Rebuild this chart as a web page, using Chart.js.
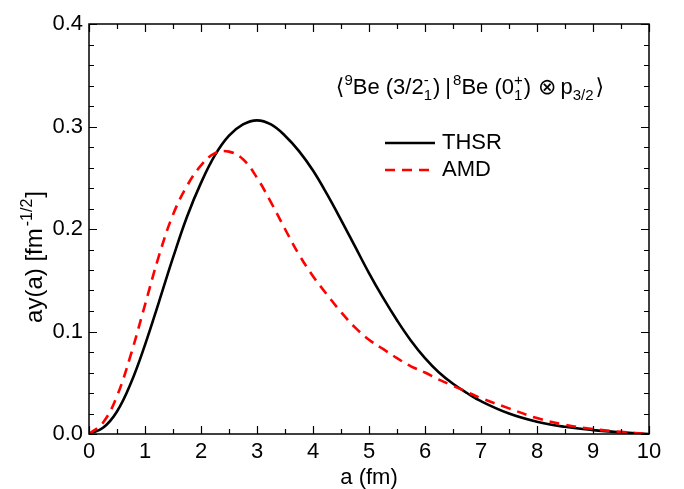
<!DOCTYPE html>
<html>
<head>
<meta charset="utf-8">
<script src="https://cdn.jsdelivr.net/npm/chart.js@4/dist/chart.umd.min.js"></script>
<style>
  html, body { margin: 0; padding: 0; background: #fff; }
  canvas { display: block; }
</style>
</head>
<body>
<canvas id="chart" width="684" height="489"></canvas>
<script>
// data
const aValues = [0, 0.25, 0.5, 0.75, 1.0, 1.25, 1.5, 1.75, 2.0, 2.25, 2.5, 2.75, 3.0, 3.25, 3.5, 3.75,
                 4.0, 4.25, 4.5, 4.75, 5.0, 5.25, 5.5, 5.75, 6.0, 6.25, 6.5, 6.75, 7.0, 7.5, 8.0, 8.5, 9.0, 9.5, 10];
const thsrValues = [0, 0.006, 0.022, 0.050, 0.087, 0.129, 0.172, 0.212, 0.245, 0.272, 0.291, 0.302, 0.306, 0.302, 0.291, 0.276,
                    0.257, 0.234, 0.209, 0.183, 0.157, 0.133, 0.111, 0.091, 0.074, 0.060, 0.049, 0.040, 0.032, 0.020, 0.012, 0.0070, 0.0038, 0.0016, 0];
const amdValues = [0, 0.011, 0.037, 0.078, 0.126, 0.174, 0.214, 0.242, 0.262, 0.274, 0.2755, 0.268, 0.250, 0.226, 0.200, 0.175,
                   0.154, 0.136, 0.119, 0.104, 0.092, 0.083, 0.074, 0.066, 0.060, 0.053, 0.047, 0.041, 0.035, 0.025, 0.0155, 0.009, 0.0048, 0.0021, 0];
const xTickValues = [0, 1, 2, 3, 4, 5, 6, 7, 8, 9, 10];
const yTickValues = [0, 0.1, 0.2, 0.3, 0.4];
const seriesNames = ['THSR', 'AMD'];

const FAMILY = "'Liberation Sans', Arial, 'DejaVu Sans', sans-serif";
const font = sz => sz + 'px ' + FAMILY;

// rich text: parts are {t} normal, {t,k:'sup'|'sub'} small, {up,dn} stacked, {gap} blank space
function partWidth(ctx, p, st) {
    if (p.gap !== undefined) return p.gap;
    if (p.up !== undefined) {
        ctx.font = font(st.small);
        return Math.max(ctx.measureText(p.up).width, ctx.measureText(p.dn).width);
    }
    ctx.font = font(p.k ? st.small : st.base);
    return ctx.measureText(p.t).width;
}

function drawParts(ctx, parts, x, y, st) {
    ctx.textBaseline = 'alphabetic';
    ctx.textAlign = 'left';
    parts.forEach(p => {
        const w = partWidth(ctx, p, st);
        if (p.gap !== undefined) {
            // nothing
        } else if (p.up !== undefined) {
            ctx.font = font(st.small);
            ctx.fillText(p.up, x, y - st.rise);
            ctx.fillText(p.dn, x, y + st.drop);
        } else if (p.k === 'sup') {
            ctx.font = font(st.small);
            ctx.fillText(p.t, x, y - st.rise);
        } else if (p.k === 'sub') {
            ctx.font = font(st.small);
            ctx.fillText(p.t, x, y + st.drop);
        } else {
            ctx.font = font(st.base);
            ctx.fillText(p.t, x, y);
        }
        x += w;
    });
}

const totalWidth = (ctx, parts, st) => parts.reduce((s, p) => s + partWidth(ctx, p, st), 0);

const decorations = {
    id: 'decorations',
    afterDatasetsDraw(chart) {
        const ctx = chart.ctx;
        const xs = chart.scales.x, ys = chart.scales.y;
        const a = chart.chartArea;
        ctx.save();
        ctx.strokeStyle = '#000';
        ctx.fillStyle = '#000';
        ctx.lineWidth = 1.5;
        ctx.strokeRect(a.left, a.top, a.right - a.left, a.bottom - a.top);

        // inward ticks on all four sides
        ctx.lineWidth = 1.2;
        ctx.beginPath();
        for (let i = 0; i <= 20; i++) {
            const px = Math.round(xs.getPixelForValue(i * 0.5)) + 0.5;
            const len = i % 2 === 0 ? 8 : 5;
            ctx.moveTo(px, a.bottom); ctx.lineTo(px, a.bottom - len);
            ctx.moveTo(px, a.top); ctx.lineTo(px, a.top + len);
        }
        for (let i = 0; i <= 20; i++) {
            const py = Math.round(ys.getPixelForValue(i * 0.02)) + 0.5;
            const len = i % 5 === 0 ? 8 : 5;
            ctx.moveTo(a.left, py); ctx.lineTo(a.left + len, py);
            ctx.moveTo(a.right, py); ctx.lineTo(a.right - len, py);
        }
        ctx.stroke();

        // legend
        ctx.lineWidth = 2.5;
        ctx.beginPath();
        ctx.moveTo(385, 143); ctx.lineTo(435, 143);
        ctx.stroke();
        ctx.strokeStyle = '#ff0000';
        ctx.setLineDash([10, 7]);
        ctx.beginPath();
        ctx.moveTo(385, 170); ctx.lineTo(435, 170);
        ctx.stroke();
        ctx.setLineDash([]);
        ctx.font = font(22);
        ctx.textBaseline = 'alphabetic';
        ctx.fillText(seriesNames[0], 442, 149);
        ctx.fillText(seriesNames[1], 442, 176);

        // annotation
        const noteStyle = {base: 22, small: 15, rise: 9, drop: 6};
        const note = [{t: '\u27E8'}, {t: '9', k: 'sup'}, {t: 'Be (3/2'}, {up: '-', dn: '1'}, {gap: 1}, {t: ')'},
                      {gap: 5}, {t: '|'}, {gap: 2}, {t: '8', k: 'sup'}, {t: 'Be (0'}, {up: '+', dn: '1'}, {gap: 1},
                      {t: ')'}, {gap: 7}, {t: '\u2297'}, {gap: 4}, {t: 'p'}, {t: '3/2', k: 'sub'}, {gap: 2}, {t: '\u27E9'}];
        const nw = totalWidth(ctx, note, noteStyle);
        drawParts(ctx, note, 470 - nw / 2, 94, noteStyle);

        // axis titles
        const titleStyle = {base: 22, small: 15, rise: 9, drop: 6};
        const xt = [{t: 'a (fm)'}];
        drawParts(ctx, xt, 369 - totalWidth(ctx, xt, titleStyle) / 2, 484, titleStyle);
        const ytStyle = {base: 24, small: 16, rise: 10, drop: 6};
        const yt = [{t: 'ay(a) [fm'}, {gap: 2}, {t: '-1/2', k: 'sup'}, {gap: 1}, {t: ']'}];
        ctx.translate(42, 257);
        ctx.rotate(-Math.PI / 2);
        drawParts(ctx, yt, -totalWidth(ctx, yt, ytStyle) / 2, 0, ytStyle);
        ctx.restore();
    }
};

new Chart(document.getElementById('chart'), {
    type: 'line',
    data: {
        datasets: [
            {
                label: seriesNames[0],
                data: aValues.map((x, i) => ({x: x, y: thsrValues[i]})),
                borderColor: '#000000',
                borderWidth: 2.6,
                pointRadius: 0,
                tension: 0.4,
                order: 2
            },
            {
                label: seriesNames[1],
                data: aValues.map((x, i) => ({x: x, y: amdValues[i]})),
                borderColor: '#ff0000',
                borderWidth: 2.6,
                borderDash: [10, 7],
                pointRadius: 0,
                tension: 0.4,
                order: 1
            }
        ]
    },
    options: {
        responsive: false,
        animation: false,
        layout: { padding: { left: 0, top: 24, right: 35, bottom: 0 } },
        plugins: { legend: { display: false }, tooltip: { enabled: false } },
        scales: {
            x: {
                type: 'linear', min: 0, max: 10,
                afterFit: s => { s.height = 55; },
                afterBuildTicks: s => { s.ticks = xTickValues.map(v => ({value: v})); },
                grid: { drawOnChartArea: false, drawTicks: false },
                border: { display: false },
                ticks: { padding: 5, color: '#000', font: { family: FAMILY, size: 22 },
                         maxRotation: 0, callback: v => String(v) }
            },
            y: {
                min: 0, max: 0.4,
                afterFit: s => { s.width = 89; },
                afterBuildTicks: s => { s.ticks = yTickValues.map(v => ({value: v})); },
                grid: { drawOnChartArea: false, drawTicks: false },
                border: { display: false },
                ticks: { padding: 6, color: '#000', font: { family: FAMILY, size: 22 },
                         callback: v => Number(v).toFixed(1) }
            }
        }
    },
    plugins: [decorations]
});
</script>
</body>
</html>
